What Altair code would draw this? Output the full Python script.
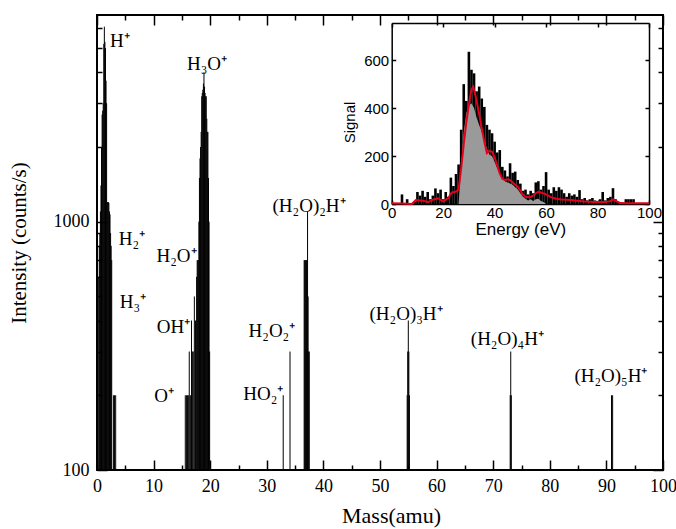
import altair as alt
import pandas as pd

SERIF = "Liberation Serif"
SANS = "Liberation Sans"
W, H = 566, 455

# ---------------- main mass spectrum (sticks) ----------------
# H+ / H2+ / H3+ group
grp_h_mass = [0.3, 0.4, 0.5, 0.6, 0.7, 0.8, 0.9, 1.0, 1.1, 1.2, 1.3, 1.4, 1.5,
              1.6, 1.7, 1.8, 1.9, 2.0, 2.1, 2.2, 2.3, 2.4, 2.5, 2.6, 2.9, 3.1, 3.3]
grp_h_int = [600, 800, 900, 1100, 1400, 2000, 2700, 2800, 3000, 5200, 6100, 5300, 5000,
             3700, 3000, 1200, 1200, 1200, 1190, 1100, 1070, 900, 800, 700, 200, 200, 200]
# O+ / OH+ / H2O+ / H3O+ group
grp_o_mass = [15.6, 15.8, 16.0, 16.2, 16.3, 16.5, 16.7, 16.9, 17.0, 17.2, 17.4, 17.6,
              17.7, 17.8, 17.9, 18.0, 18.1, 18.2, 18.3, 18.4, 18.5, 18.6, 18.7, 18.8, 18.9,
              19.0, 19.1, 19.2, 19.3, 19.4, 19.5, 19.6, 19.7, 19.8, 19.9]
grp_o_int = [200, 200, 200, 200, 300, 200, 400, 300, 300, 500, 400, 600,
             700, 700, 700, 1000, 1500, 1800, 2000, 2300, 3200, 3300, 3400, 3600, 4000,
             3500, 3300, 3200, 3200, 2600, 2300, 2300, 1500, 1000, 300]
# HO2+ / H2O2+
grp_o2_mass = [32.9, 34.1]
grp_o2_int = [200, 300]
# (H2O)nH+ clusters
grp_n2_mass = [36.6, 36.7, 36.8, 36.9, 37.0, 37.1, 37.2, 37.3, 37.4, 37.5]
grp_n2_int = [700, 700, 700, 700, 700, 700, 1100, 500, 300, 300]
grp_n3_mass = [54.8, 54.9, 55.0, 55.1, 55.2]
grp_n3_int = [200, 300, 400, 300, 200]
grp_n4_mass = [73.0, 73.1, 73.2]
grp_n4_int = [200, 300, 200]
grp_n5_mass = [90.9, 91.1]
grp_n5_int = [200, 200]

stick_mass = grp_h_mass + grp_o_mass + grp_o2_mass + grp_n2_mass + grp_n3_mass + grp_n4_mass + grp_n5_mass
stick_int = grp_h_int + grp_o_int + grp_o2_int + grp_n2_int + grp_n3_int + grp_n4_int + grp_n5_int

# ion labels (centre mass, baseline intensity)
ion_text = ["H⁺", "H₂⁺", "H₃⁺", "O⁺", "OH⁺", "H₂O⁺", "H₃O⁺", "HO₂⁺", "H₂O₂⁺",
            "(H₂O)₂H⁺", "(H₂O)₃H⁺", "(H₂O)₄H⁺", "(H₂O)₅H⁺"]
ion_mass = [4.06, 6.18, 6.36, 11.84, 13.5, 14.05, 19.43, 29.4, 30.9, 37.46, 54.6, 72.5, 90.8]
ion_int = [5040, 808, 450, 188, 357, 690, 4100, 191, 344, 1097, 403, 319, 226]

x_label_vals = [0, 10, 20, 30, 40, 50, 60, 70, 80, 90, 100]
x_tick_vals = [0, 5, 10, 15, 20, 25, 30, 35, 40, 45, 50, 55, 60, 65, 70, 75, 80, 85, 90, 95, 100]
y_label_vals = [100, 1000]
y_tick_vals = [100, 200, 300, 400, 500, 600, 700, 800, 900, 1000, 2000, 3000, 4000, 5000, 6000]

# ---------------- inset: energy distribution ----------------
noise_e = list(range(0, 96))
noise_s = [0, 0, 0, 0, 40, 0, 20, 0, 0, 10,
           50, 35, 55, 30, 50, 20, 35, 65, 45, 60,
           20, 50, 30, 110, 75, 125, 165, 310, 500, 430,
           635, 560, 545, 470, 490, 440, 405, 330, 310, 295,
           260, 215, 225, 155, 140, 115, 170, 130, 135, 100,
           85, 55, 60, 40, 55, 45, 90, 95, 60, 75,
           133, 60, 45, 70, 55, 70, 60, 45, 30, 45,
           35, 40, 30, 58, 20, 25, 15, 20, 25, 15,
           10, 20, 50, 15, 25, 30, 66, 20, 10, 5,
           5, 20, 20, 20, 20, 0]
hatch_e = [26, 27, 28, 29, 30, 31, 32, 33, 34, 35, 36, 37, 38, 39, 40, 41, 42, 43,
           44, 45, 46, 47, 48, 49, 50, 51, 52, 53, 54, 55, 56, 57, 58, 59, 60]
hatch_s = [0, 160, 300, 380, 410, 420, 400, 360, 330, 300, 270, 230, 205, 200, 175, 150, 130, 110,
           95, 90, 85, 80, 70, 60, 45, 30, 22, 15, 20, 12, 20, 22, 12, 8, 0]
fit_e = [0, 4, 7.8, 9.4, 12, 14.2, 16, 18.1, 20, 22, 23.3, 25, 26, 27, 28, 29, 30, 31, 31.7,
         32.5, 33, 34, 35, 36, 37, 38, 39, 40, 41, 42, 43, 44, 45, 46, 47, 48, 49, 50, 51,
         52, 53, 54, 55, 56, 57, 58, 59, 60, 61, 62, 64, 66, 68, 70, 72, 75, 79, 83, 85,
         86, 87, 88.7, 92, 95, 100]
fit_s = [3, 2, 0, 17, 14, 8, 18, 24, 10, 25, 47, 52, 60, 150, 250, 340, 415, 478, 489,
         455, 430, 375, 315, 260, 212, 222, 218, 195, 160, 128, 105, 100, 103, 100, 90, 80, 72, 55, 38,
         30, 28, 29, 35, 45, 51, 48, 44, 40, 34, 28, 22, 19, 18, 17, 14, 10, 8, 8, 12,
         19, 14, 4, 3, 3, 3]

sticks_df = pd.DataFrame({"mass": stick_mass, "intensity": stick_int})
ions_df = pd.DataFrame({"label": ion_text, "mass": ion_mass, "intensity": ion_int})
noise_df = pd.DataFrame({"energy": noise_e, "signal": noise_s})
hatch_df = pd.DataFrame({"energy": hatch_e, "signal": hatch_s})
fit_df = pd.DataFrame({"energy": fit_e, "signal": fit_s})


def mx():
    return alt.Scale(domain=[0, 100], nice=False, zero=False, padding=0)


def my():
    return alt.Scale(type="log", domain=[100, 6800], nice=False, padding=0)


# inset placed inside main plot area via pixel ranges
INS_L, INS_R, INS_B, INS_T = 294.7, 552.0, 189.0, 8.0


def ix():
    return alt.Scale(domain=[0, 100], nice=False, zero=False, padding=0, range=[INS_L, INS_R])


def iy():
    return alt.Scale(domain=[0, 755], nice=False, zero=False, padding=0, range=[INS_B, INS_T])


def tick_axis(orient, offset, values, test, major, minor, width=1.5, domain=False):
    return alt.Axis(orient=orient, offset=offset, values=values, labels=False, domain=domain,
                    domainColor="black", domainWidth=1.5,
                    grid=False, title="", ticks=True, tickColor="black", tickWidth=width,
                    tickSize={"condition": {"test": test, "value": major}, "value": minor})


XMAJ = "datum.value % 10 === 0"
YMAJ = "datum.value === 100 || datum.value === 1000"

sticks = alt.Chart(sticks_df).mark_rule(color="black", strokeWidth=1).encode(
    x=alt.X("mass:Q", scale=mx(), axis=alt.Axis(
        orient="bottom", values=x_label_vals, ticks=False, domain=False, grid=False,
        labelFont=SERIF, labelFontSize=18, labelColor="black", labelPadding=7, labelFlush=False,
        title="Mass(amu)", titleFont=SERIF, titleFontSize=22, titleFontWeight="normal",
        titleColor="black", titlePadding=10, titleX=294)),
    y=alt.Y("intensity:Q", scale=my(), axis=alt.Axis(
        orient="left", values=y_label_vals, format="d", ticks=False, domain=False, grid=False,
        labelFont=SERIF, labelFontSize=18, labelColor="black", labelPadding=8, labelFlush=False,
        title="Intensity (counts/s)", titleFont=SERIF, titleFontSize=21, titleFontWeight="normal",
        titleColor="black", titlePadding=24)),
    y2=alt.datum(100),
)

ticks_in_a = alt.Chart(sticks_df).mark_point(opacity=0).encode(
    x=alt.X("mass:Q", scale=mx(), axis=tick_axis("top", -H, x_tick_vals, XMAJ, 10, 5)),
    y=alt.Y("intensity:Q", scale=my(), axis=tick_axis("right", -W, y_tick_vals, YMAJ, 10, 5)),
)
ticks_in_b = alt.Chart(sticks_df).mark_point(opacity=0).encode(
    x=alt.X("mass:Q", scale=mx(), axis=tick_axis("bottom", -H, x_tick_vals, XMAJ, 10, 5)),
    y=alt.Y("intensity:Q", scale=my(), axis=tick_axis("left", -W, y_tick_vals, YMAJ, 10, 5)),
)

labels = alt.Chart(ions_df).mark_text(font=SERIF, fontSize=19, align="center",
                                      baseline="alphabetic", color="black").encode(
    x=alt.X("mass:Q", scale=mx(), axis=None),
    y=alt.Y("intensity:Q", scale=my(), axis=None),
    text="label:N",
)

# inset layers
noise = alt.Chart(noise_df).mark_rule(color="black", strokeWidth=2.6).encode(
    x=alt.X("energy:Q", scale=ix(), axis=alt.Axis(
        orient="bottom", offset=-(H - INS_B), values=[0, 20, 40, 60, 80, 100], ticks=False,
        domain=True, domainColor="black", domainWidth=1.5, grid=False,
        labelFont=SANS, labelFontSize=15, labelColor="black", labelPadding=1, labelFlush=False,
        title="Energy (eV)", titleFont=SANS, titleFontSize=17, titleFontWeight="normal",
        titleColor="black", titlePadding=1)),
    y=alt.Y("signal:Q", scale=iy(), axis=alt.Axis(
        orient="left", offset=-INS_L, values=[0, 200, 400, 600], ticks=False,
        domain=True, domainColor="black", domainWidth=1.5, grid=False,
        labelFont=SANS, labelFontSize=15, labelColor="black", labelPadding=3, labelFlush=False,
        title="Signal", titleFont=SANS, titleFontSize=15, titleFontWeight="normal",
        titleColor="black", titlePadding=6, titleY=107)),
    y2=alt.datum(0),
)

hatch = alt.Chart(hatch_df).mark_area(color="#9a9a9a", opacity=1).encode(
    x=alt.X("energy:Q", scale=ix(), axis=tick_axis("top", -INS_B, [0, 20, 40, 60, 80, 100],
                                                   "true", 4, 4)),
    y=alt.Y("signal:Q", scale=iy(), axis=tick_axis("right", -(W - INS_L), [0, 200, 400, 600],
                                                  "true", 4, 4)),
)

fit = alt.Chart(fit_df).mark_line(color="#e3001b", strokeWidth=2).encode(
    x=alt.X("energy:Q", scale=ix(), axis=tick_axis("bottom", -(H - INS_T), [0, 20, 40, 60, 80, 100],
                                                   "true", 4, 4, domain=True)),
    y=alt.Y("signal:Q", scale=iy(), axis=tick_axis("left", -INS_R, [0, 200, 400, 600],
                                                  "true", 4, 4, domain=True)),
)

chart = alt.layer(sticks, ticks_in_a, ticks_in_b, labels, noise, hatch, fit).resolve_scale(
    x="independent", y="independent"
).resolve_axis(
    x="independent", y="independent"
).properties(
    width=W, height=H, autosize="none",
    padding={"left": 97, "top": 15, "right": 13, "bottom": 59},
    background="white",
).configure_view(stroke="black", strokeWidth=2)

chart.save("out.html", embed_options={"renderer": "svg", "actions": False})
